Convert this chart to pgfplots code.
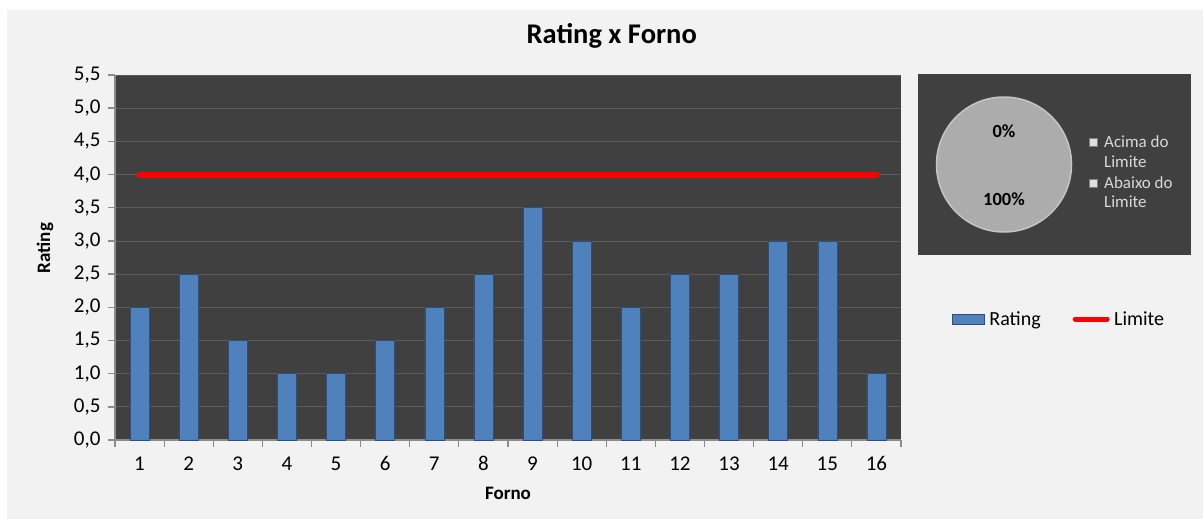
\documentclass[border=0pt]{standalone}
\usepackage{fontspec}
\setmainfont{Carlito}
\usepackage{pgfplots}
\pgfplotsset{compat=1.18}
\definecolor{outerbg}{HTML}{F2F2F2}
\definecolor{plotbg}{HTML}{404040}
\definecolor{gridgray}{HTML}{5A5A5A}
\definecolor{axisgray}{HTML}{8C8C8C}
\definecolor{barmain}{HTML}{4F81BD}
\definecolor{bardark}{HTML}{2F4F7A}
\definecolor{piefill}{HTML}{ACACAC}
\definecolor{pieedge}{HTML}{C4C4C4}
\definecolor{pietext}{HTML}{D9D9D9}
\definecolor{sqcol}{HTML}{E0E0E0}
\begin{document}
\begin{tikzpicture}
\useasboundingbox (0,0) rectangle (1203bp,-519bp);
\fill[white] (0,0) rectangle (1203bp,-519bp);
\fill[outerbg] (7bp,-10bp) rectangle (1203bp,-519bp);
\begin{axis}[
  at={(115bp,-440bp)}, anchor=south west,
  width=786bp, height=365bp, scale only axis,
  xmin=0.5, xmax=16.5, ymin=0, ymax=5.5,
  xtick={1,...,16},
  minor xtick={0.5,1.5,2.5,3.5,4.5,5.5,6.5,7.5,8.5,9.5,10.5,11.5,12.5,13.5,14.5,15.5,16.5},
  ytick={0,0.5,1,1.5,2,2.5,3,3.5,4,4.5,5,5.5},
  axis background/.style={fill=plotbg},
  axis x line*=bottom, axis y line*=left,
  axis line style={draw=axisgray, line width=1.5bp, -},
  tick align=outside,
  major tick length=7bp, minor tick length=7bp,
  major x tick style={draw=none},
  minor x tick style={draw=axisgray, line width=1.2bp},
  ytick style={draw=axisgray, line width=1.5bp},
  ymajorgrids, grid style={draw=gridgray, line width=0.8bp},
  /pgf/number format/assume math mode=true,
  ticklabel style={font=\fontsize{21bp}{24bp}\selectfont, text=black},
  xticklabel style={yshift=-6bp},
  yticklabel style={xshift=-4bp, /pgf/number format/fixed, /pgf/number format/fixed zerofill, /pgf/number format/precision=1, /pgf/number format/use comma},
  xlabel={Forno}, ylabel={Rating},
  label style={font=\fontsize{19bp}{22bp}\selectfont\bfseries},
  xlabel style={at={(axis description cs:0.5,-0.145)}, anchor=center},
  ylabel style={at={(axis description cs:-0.089,0.526)}, anchor=center},
  title={Rating x Forno},
  title style={at={(axis description cs:0.632,1.090)}, anchor=center, font=\fontsize{28.5bp}{32bp}\selectfont\bfseries},
  legend columns=2,
  legend style={at={(axis description cs:1.201,0.3315)}, anchor=center, draw=none, fill=none,
    font=\fontsize{20bp}{23bp}\selectfont, inner sep=0pt,
    /tikz/every even column/.append style={column sep=30bp}},
]
\addplot[ybar, bar shift=0pt, bar width=19bp, draw=bardark, line width=0.6bp, fill=barmain,
  legend image code/.code={\draw[draw=bardark, fill=barmain] (0bp,-5bp) rectangle (32bp,5bp); \path (35bp,0bp);}]
  coordinates {(1,2) (2,2.5) (3,1.5) (4,1) (5,1) (6,1.5) (7,2) (8,2.5) (9,3.5) (10,3) (11,2) (12,2.5) (13,2.5) (14,3) (15,3) (16,1)};
\addlegendentry{Rating}
\addplot[red, line width=6bp, line cap=round, mark=none,
  legend image code/.code={\draw[red, line width=5bp, line cap=round] (2bp,0bp) -- (34bp,0bp); \path (36bp,0bp);}]
  coordinates {(1,4) (2,4) (3,4) (4,4) (5,4) (6,4) (7,4) (8,4) (9,4) (10,4) (11,4) (12,4) (13,4) (14,4) (15,4) (16,4)};
\addlegendentry{Limite}
\end{axis}
\begin{axis}[
  at={(918bp,-255bp)}, anchor=south west,
  width=273bp, height=181bp, scale only axis,
  xmin=0, xmax=273, ymin=0, ymax=181,
  ticks=none, axis line style={draw=none},
  axis background/.style={fill=plotbg},
  clip=false,
]
% Abaixo do Limite = 100%, Acima do Limite = 0%
\addplot[only marks, mark=*, mark size=67.5bp, mark options={draw=pieedge, line width=1.5bp, fill=piefill}] coordinates {(86,90.5)};
\addplot[only marks, mark=square*, mark size=4bp, mark options={draw=gray, fill=sqcol}] coordinates {(175,113) (175,72)};
\coordinate (l0) at (axis cs:86,124);
\coordinate (l100) at (axis cs:86,56);
\node[font=\fontsize{17bp}{19bp}\selectfont, text=pietext, anchor=west, inner sep=0pt] at (axis cs:186,113) {Acima do};
\node[font=\fontsize{17bp}{19bp}\selectfont, text=pietext, anchor=west, inner sep=0pt] at (axis cs:186,93) {Limite};
\node[font=\fontsize{17bp}{19bp}\selectfont, text=pietext, anchor=west, inner sep=0pt] at (axis cs:186,72) {Abaixo do};
\node[font=\fontsize{17bp}{19bp}\selectfont, text=pietext, anchor=west, inner sep=0pt] at (axis cs:186,53) {Limite};
\end{axis}
\node[font=\fontsize{18.5bp}{20bp}\selectfont\bfseries] at (l0) {0\%};
\node[font=\fontsize{18.5bp}{20bp}\selectfont\bfseries] at (l100) {100\%};
\end{tikzpicture}
\end{document}
